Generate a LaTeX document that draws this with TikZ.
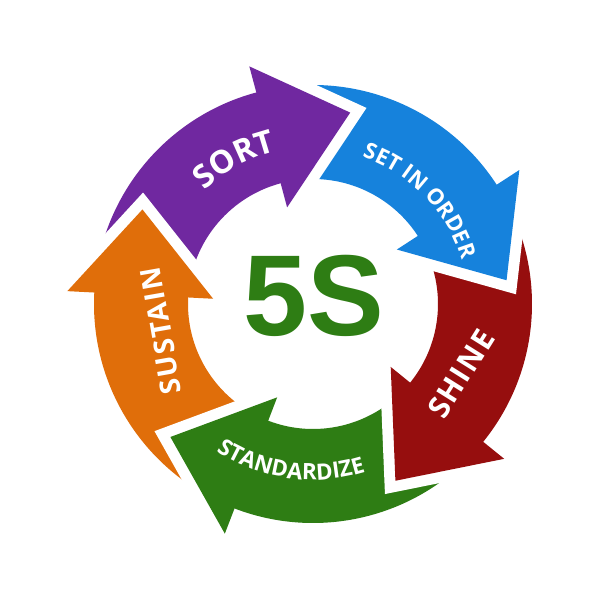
\documentclass[tikz,border=0pt]{standalone}
\usepackage{fontspec}
\usetikzlibrary{decorations.text}
\newfontfamily\labfont{Open Sans}[LetterSpace=6]
\newfontfamily\labfontn{Open Sans}[LetterSpace=6, WordSpace=0.8]
\newfontfamily\bigfont{Liberation Sans}
\definecolor{cpurple}{RGB}{112,40,160}
\definecolor{cblue}{RGB}{22,130,220}
\definecolor{cred}{RGB}{150,14,14}
\definecolor{cgreen}{RGB}{46,125,20}
\definecolor{corange}{RGB}{224,110,10}
\tikzset{
  gapline/.style={draw=white, line width=22pt, line join=miter, miter limit=20},
  lab/.style={text=white, font=\labfont\bfseries\fontsize{#1}{#1}\selectfont, inner sep=0pt}
}
\begin{document}
\begin{tikzpicture}[x=1pt,y=1pt]
\useasboundingbox[fill=white] (-313,-296) rectangle (287,304);
% pass 1: bands (tails extend under previous head)
\foreach \t/\c in {79/cpurple,7/cblue,-65/cred,-137/cgreen,-209/corange}{
  \fill[\c] ({\t+92}:219) arc[start angle={\t+92}, end angle={\t+24}, radius=219]
    -- ({\t+24}:125) arc[start angle={\t+24}, end angle={\t+92}, radius=125] -- cycle;
}
% pass 2: white gaps around heads
\foreach \t in {79,7,-65,-137,-209}{
  \draw[gapline] ({\t+26}:246) -- (\t:195) -- ({\t+26}:100);
}
% pass 3: heads
\foreach \t/\c in {79/cpurple,7/cblue,-65/cred,-137/cgreen,-209/corange}{
  \fill[\c] ({\t+26}:246) -- (\t:195) -- ({\t+26}:100) -- cycle;
}
% labels
\path[decorate, decoration={text along path, text align=center, text color=white,
  text={|\labfont\bfseries\fontsize{32}{32}\selectfont|SORT}}]
  (150:157) arc[start angle=150, end angle=87, radius=157];
\path[decorate, decoration={text along path, text align=center, text color=white,
  text={|\labfontn\bfseries\fontsize{22}{22}\selectfont|SET IN ORDER}}]
  (85:155) arc[start angle=85, end angle=3, radius=155];
\path[decorate, decoration={text along path, text align=center, text color=white,
  text={|\labfont\bfseries\fontsize{22.5}{22.5}\selectfont|STANDARDIZE}}]
  (-140:176) arc[start angle=-140, end angle=-56, radius=176];
\node[lab=30, rotate=57.9] (shine) at (148,-69.5) {SHINE};
\node[lab=28, rotate=100] (sustain) at (-152,-27) {SUSTAIN};
\node[text=cgreen, font=\bigfont\bfseries\fontsize{115}{115}\selectfont, inner sep=0pt] (five) at (1,8) {5S};
\end{tikzpicture}
\end{document}
